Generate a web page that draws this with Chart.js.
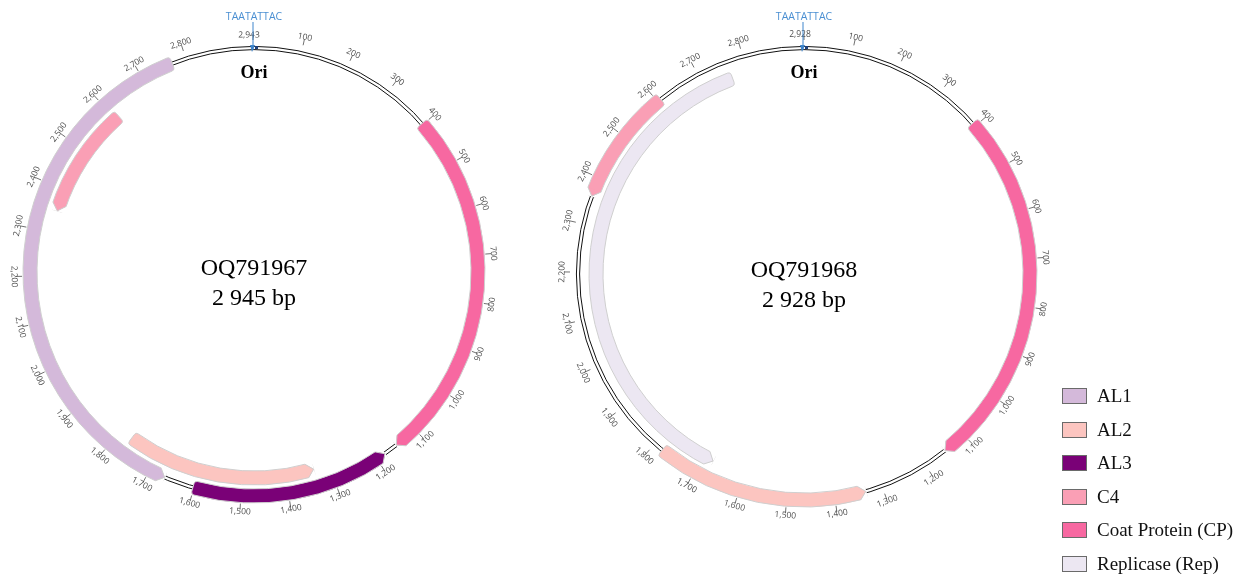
<!DOCTYPE html>
<html>
<head>
<meta charset="utf-8">
<title>Begomovirus genome maps</title>
<script src="https://cdn.jsdelivr.net/npm/chart.js@4.4.1/dist/chart.umd.min.js"></script>
<style>
  html, body { margin: 0; padding: 0; background: #fff; }
  body { width: 1246px; height: 578px; overflow: hidden; position: relative; }
  canvas { position: absolute; left: 0; top: 0; }
  #legend { position: absolute; left: 0; top: 0; font-family: "Liberation Serif", "Times New Roman", serif; font-size: 19px; color: #111; }
  .item { position: absolute; display: flex; align-items: center; white-space: nowrap; height: 22px; }
  .sw { width: 23px; height: 14px; border: 1px solid #6a6a6a; margin-right: 10px; box-sizing: content-box; }
</style>
</head>
<body>
<canvas id="mapA" width="1246" height="578"></canvas>
<canvas id="mapB" width="1246" height="578"></canvas>
<div id="legend"></div>
<script>
// ---- gene categories (legend order) ----
const geneNames  = ['AL1', 'AL2', 'AL3', 'C4', 'Coat Protein (CP)', 'Replicase (Rep)'];
const geneKeys   = ['AL1', 'AL2', 'AL3', 'C4', 'CP', 'Rep'];
const geneColors = ['#d4b9da', '#fcc5c0', '#7a0177', '#fa9fb5', '#f768a1', '#ece7f2'];

// ---- OQ791967, 2 945 bp ----
const nameA    = 'OQ791967';
const lengthA  = 2945;
const genesA   = ['CP', 'AL3', 'AL2', 'AL1', 'C4'];
const startA   = [397, 1180, 1335, 1665, 2350];
const endA     = [1150, 1602, 1770, 2770, 2610];
const laneA    = [0, 0, 1, 0, 1];          // 0 = on the backbone, 1 = inner lane
const strandA  = [1, -1, -1, -1, -1];      // +1 clockwise, -1 counter-clockwise
const lastTickA = 2943;

// ---- OQ791968, 2 928 bp ----
const nameB    = 'OQ791968';
const lengthB  = 2928;
const genesB   = ['CP', 'AL2', 'Rep', 'C4'];
const startB   = [392, 1335, 1675, 2360];
const endB     = [1150, 1780, 2765, 2608];
const laneB    = [0, 0, 1, 0];
const strandB  = [1, -1, -1, -1];
const lastTickB = 2928;

// ---- position ruler ----
const tickStep = 100;
const tickMax  = 2800;
const oriMotif = 'TAATATTAC';

const CLEAR = 'rgba(0,0,0,0)';
const colorOf = key => geneColors[geneKeys.indexOf(key)];
const fmt = n => n.toLocaleString('en-US');

// One doughnut ring per lane: gaps are transparent, genes are coloured arcs.
function laneDataset(len, genes, starts, ends, lanes, lane, weight) {
  const order = genes.map((g, i) => i).filter(i => lanes[i] === lane)
                     .sort((a, b) => starts[a] - starts[b]);
  const data = [], bg = [], bw = [], br = [], feat = [];
  let pos = 0;
  order.forEach(i => {
    if (starts[i] > pos) { data.push(starts[i] - pos); bg.push(CLEAR); bw.push(0); br.push(0); feat.push(-1); }
    data.push(ends[i] - starts[i]); bg.push(colorOf(genes[i])); bw.push(1); br.push(3); feat.push(i);
    pos = ends[i];
  });
  if (pos < len) { data.push(len - pos); bg.push(CLEAR); bw.push(0); br.push(0); feat.push(-1); }
  return { data, backgroundColor: bg, borderWidth: bw, borderRadius: br,
           borderColor: '#cfcfcf', weight, featIndex: feat };
}

function genomePlugin(g) {
  const pt = (cx, cy, r, a) => [cx + r * Math.cos(a), cy + r * Math.sin(a)];
  return {
    id: 'genomeMap',
    beforeDatasetsDraw(chart) {
      const ctx = chart.ctx;
      const el = chart.getDatasetMeta(0).data[0];
      const rb = (el.outerRadius + el.innerRadius) / 2;
      ctx.save();
      ctx.strokeStyle = '#111';
      ctx.lineWidth = 1;
      [rb - 1.6, rb + 1.6].forEach(r => {
        ctx.beginPath(); ctx.arc(el.x, el.y, r, 0, Math.PI * 2); ctx.stroke();
      });
      ctx.restore();
    },
    afterDatasetsDraw(chart) {
      const ctx = chart.ctx;
      const el0 = chart.getDatasetMeta(0).data[0];
      const cx = el0.x, cy = el0.y;
      const rb = (el0.outerRadius + el0.innerRadius) / 2;
      const rot = (chart.options.rotation || 0) * Math.PI / 180 - Math.PI / 2;
      const angleOf = bp => rot + 2 * Math.PI * bp / g.length;

      // arrow tips on the gene arcs
      ctx.save();
      [0, 2].forEach(di => {
        const ds = chart.data.datasets[di];
        chart.getDatasetMeta(di).data.forEach((arc, j) => {
          const fi = ds.featIndex[j];
          if (fi < 0) return;
          const s = g.strand[fi] < 0 ? 1 : -1;
          const tip = g.strand[fi] < 0 ? arc.startAngle : arc.endAngle;
          const ro = arc.outerRadius, ri = arc.innerRadius, rm = (ro + ri) / 2;
          const dIn = s * 7 / rm, dOut = -s * 0.4 / rm;
          const poly = p => { ctx.beginPath(); p.forEach((q, k) => k ? ctx.lineTo(q[0], q[1]) : ctx.moveTo(q[0], q[1])); ctx.closePath(); ctx.fill(); };
          ctx.fillStyle = '#fff';
          poly([pt(cx, cy, ro, tip + dIn), pt(cx, cy, rm, tip + dOut), pt(cx, cy, ro + 2, tip + dOut), pt(cx, cy, ro + 2, tip + dIn)]);
          poly([pt(cx, cy, ri, tip + dIn), pt(cx, cy, rm, tip + dOut), pt(cx, cy, ri - 2, tip + dOut), pt(cx, cy, ri - 2, tip + dIn)]);
          ctx.fillStyle = ds.backgroundColor[j];
          poly([pt(cx, cy, ro, tip + dIn), pt(cx, cy, rm, tip), pt(cx, cy, ri, tip + dIn)]);
          ctx.strokeStyle = '#cfcfcf'; ctx.lineWidth = 1;
          ctx.beginPath();
          let q = pt(cx, cy, ro, tip + dIn); ctx.moveTo(q[0], q[1]);
          q = pt(cx, cy, rm, tip); ctx.lineTo(q[0], q[1]);
          q = pt(cx, cy, ri, tip + dIn); ctx.lineTo(q[0], q[1]);
          ctx.stroke();
        });
      });
      ctx.restore();

      // position ruler
      ctx.save();
      ctx.font = '8.5px "Open Sans", "DejaVu Sans", sans-serif';
      ctx.fillStyle = '#4d4d4d';
      ctx.strokeStyle = '#4d4d4d';
      ctx.lineWidth = 0.8;
      ctx.textAlign = 'center';
      ctx.textBaseline = 'middle';
      const ticks = [];
      for (let bp = tickStep; bp <= tickMax; bp += tickStep) ticks.push(bp);
      ticks.push(g.lastTick);
      ticks.forEach(bp => {
        const a = angleOf(bp);
        const t0 = pt(cx, cy, rb + 8, a), t1 = pt(cx, cy, rb + 14, a);
        ctx.beginPath(); ctx.moveTo(t0[0], t0[1]); ctx.lineTo(t1[0], t1[1]); ctx.stroke();
        const th = 2 * Math.PI * bp / g.length;
        const tr = (th > Math.PI / 2 && th < 3 * Math.PI / 2) ? th - Math.PI : th;
        const last = bp === g.lastTick;
        const p = pt(cx, cy, rb + (last ? 13 : 16), a);
        ctx.save();
        ctx.translate(p[0], p[1]);
        ctx.rotate(tr);
        ctx.fillText(fmt(bp), last ? -4 : 0, 0);
        ctx.restore();
      });
      ctx.restore();

      // origin marker
      ctx.save();
      const top = cy - rb;
      ctx.strokeStyle = '#3f85cc';
      ctx.lineWidth = 1;
      ctx.beginPath(); ctx.moveTo(cx - 1, top - 26); ctx.lineTo(cx - 1, top + 2); ctx.stroke();
      ctx.fillStyle = '#3f85cc';
      ctx.beginPath(); ctx.moveTo(cx - 4, top - 3); ctx.lineTo(cx + 1, top - 3); ctx.lineTo(cx - 2, top + 4); ctx.closePath(); ctx.fill();
      ctx.fillStyle = '#1d3f7a';
      ctx.fillRect(cx + 1, top - 2, 3, 3);
      ctx.fillStyle = '#4a8fd2';
      ctx.font = '10.5px "Open Sans", "DejaVu Sans", sans-serif';
      ctx.textAlign = 'center';
      ctx.textBaseline = 'middle';
      ctx.fillText(oriMotif, cx, top - 31);
      ctx.fillStyle = '#000';
      ctx.font = 'bold 18px "Liberation Serif", serif';
      ctx.fillText('Ori', cx, top + 25);
      // genome name and size
      ctx.font = '24px "Liberation Serif", serif';
      ctx.fillText(g.name, cx, cy - 3);
      ctx.fillText(g.length.toLocaleString('en-US').replace(',', ' ') + ' bp', cx, cy + 27);
      ctx.restore();
    }
  };
}

function buildMap(canvasId, g, radius, center) {
  const outerW = 14, gapW = 4, innerW = 14;
  const inner = radius - outerW - gapW - innerW;
  const outerLane = laneDataset(g.length, g.genes, g.start, g.end, g.lane, 0, outerW);
  const innerLane = laneDataset(g.length, g.genes, g.start, g.end, g.lane, 1, innerW);
  const spacer = { data: [g.length], backgroundColor: [CLEAR], borderWidth: 0, weight: gapW };
  const W = 1246, H = 578;
  const pad = {
    left: Math.max(0, 2 * center[0] - W), right: Math.max(0, W - 2 * center[0]),
    top: Math.max(0, 2 * center[1] - H), bottom: Math.max(0, H - 2 * center[1])
  };
  return new Chart(document.getElementById(canvasId), {
    type: 'doughnut',
    data: { labels: g.genes, datasets: [outerLane, spacer, innerLane] },
    options: {
      responsive: false,
      animation: false,
      devicePixelRatio: 1,
      events: [],
      rotation: 0,
      circumference: 360,
      radius: radius,
      cutout: (inner / radius * 100) + '%',
      layout: { padding: pad },
      plugins: { legend: { display: false }, tooltip: { enabled: false } }
    },
    plugins: [genomePlugin(g)]
  });
}

buildMap('mapA', { name: nameA, length: lengthA, genes: genesA, start: startA, end: endA,
                   lane: laneA, strand: strandA, lastTick: lastTickA }, 231, [254, 272]);
buildMap('mapB', { name: nameB, length: lengthB, genes: genesB, start: startB, end: endB,
                   lane: laneB, strand: strandB, lastTick: lastTickB }, 233, [804, 274]);

// legend
const legend = document.getElementById('legend');
const legendRows = [396, 429.5, 463, 496.5, 530, 563.5];
geneNames.forEach((name, i) => {
  const item = document.createElement('div');
  item.className = 'item';
  item.style.left = '1062px';
  item.style.top = (legendRows[i] - 11) + 'px';
  const sw = document.createElement('span');
  sw.className = 'sw';
  sw.style.background = geneColors[i];
  item.appendChild(sw);
  item.appendChild(document.createTextNode(name));
  legend.appendChild(item);
});
</script>
</body>
</html>
